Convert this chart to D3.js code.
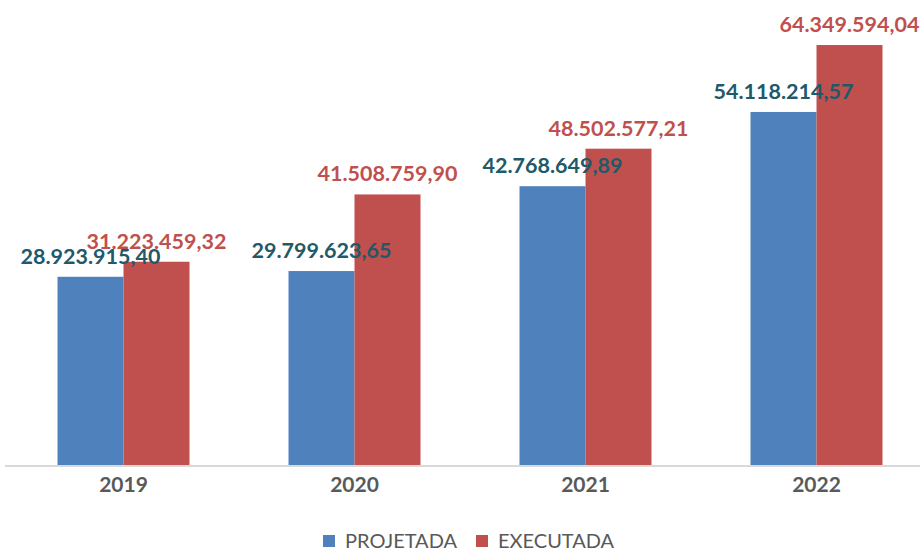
<!DOCTYPE html>
<html><head><meta charset="utf-8">
<script src="https://cdn.jsdelivr.net/npm/d3@7"></script>
<style>body{margin:0;background:#fff}svg{display:block}</style>
</head><body>
<script>
const categories = ["2019","2020","2021","2022"];
const seriesNames = ["PROJETADA","EXECUTADA"];
const projetada = [28923915.40, 29799623.65, 42768649.89, 54118214.57];
const executada = [31223459.32, 41508759.90, 48502577.21, 64349594.04];
const colors = ["#4F81BD","#C0504D"];
const labelColors = ["#215968","#C0504D"];

const W=920,H=552;
const svg=d3.select("body").append("svg").attr("width",W).attr("height",H);
const baseY=466;
const x=d3.scaleBand().domain(categories).range([8,932]).paddingInner(0).paddingOuter(0);
const xs=d3.scaleBand().domain(seriesNames).range([0,132]);
const y=d3.scaleLinear().domain([0,70000000]).range([baseY, baseY-70000000*6.542e-6]);
const fmt=v=>v.toLocaleString("de-DE",{minimumFractionDigits:2,maximumFractionDigits:2});
const data=[projetada,executada];

const g=svg.append("g");
seriesNames.forEach((s,si)=>{
  g.selectAll(".b"+si).data(categories).join("rect")
    .attr("x",c=>x(c)+x.bandwidth()/2-66+xs(s))
    .attr("width",xs.bandwidth())
    .attr("y",(c,i)=>y(data[si][i]))
    .attr("height",(c,i)=>baseY-y(data[si][i]))
    .attr("fill",colors[si]);
});
// axis
const ax=svg.append("g").attr("transform",`translate(0,${baseY})`)
  .call(d3.axisBottom(x).tickSize(0).tickPadding(0));
ax.select(".domain").attr("stroke","#D9D9D9").attr("stroke-width",2).attr("d","M5,0H920");
ax.selectAll("text").attr("font-family","Lato, sans-serif").attr("font-weight","bold")
  .attr("font-size","21px").attr("fill","#595959").attr("y",26).attr("dy",0);
// labels
seriesNames.forEach((s,si)=>{
  g.selectAll(".l"+si).data(categories).join("text")
    .attr("x",c=>x(c)+x.bandwidth()/2-66+xs(s)+xs.bandwidth()/2)
    .attr("y",(c,i)=>y(data[si][i])-13)
    .attr("text-anchor","middle")
    .attr("font-family","Lato, sans-serif").attr("font-weight","bold").attr("font-size","21.5px")
    .attr("fill",labelColors[si])
    .text((c,i)=>fmt(data[si][i]));
});
// legend
const lg=svg.append("g");
const lx=[323,476];
seriesNames.forEach((s,si)=>{
  lg.append("rect").attr("x",lx[si]).attr("y",535).attr("width",12).attr("height",12).attr("fill",colors[si]);
  lg.append("text").attr("x",lx[si]+22).attr("y",547.5).attr("font-family","Lato, sans-serif")
    .attr("font-size","20px").attr("fill","#595959").text(s);
});
</script>
</body></html>
